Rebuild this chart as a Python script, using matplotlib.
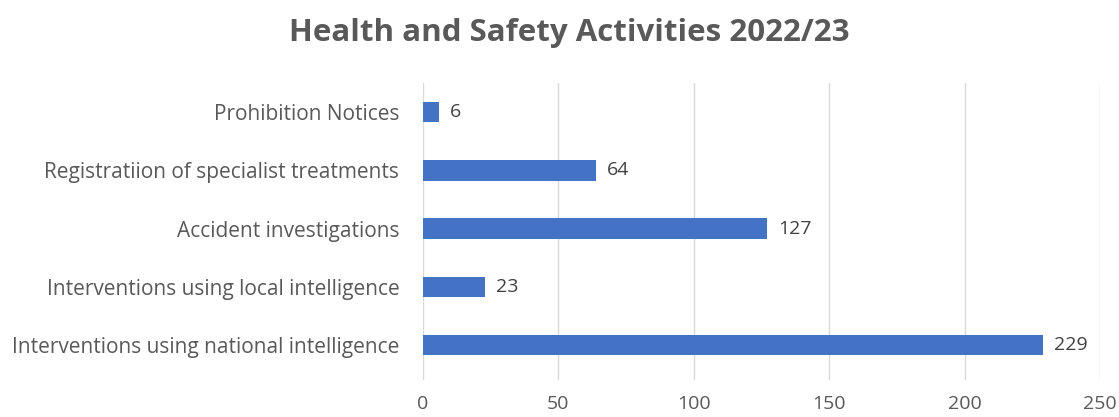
import matplotlib.pyplot as plt
import numpy as np

# Health and safety activity counts, 2022/23 (bottom to top as drawn)
categories = [
    "Interventions using national intelligence",
    "Interventions using local intelligence",
    "Accident investigations",
    "Registratiion of specialist treatments",
    "Prohibition Notices",
]
counts = [229, 23, 127, 64, 6]
xticks = [0, 50, 100, 150, 200, 250]

plt.rcParams['font.family'] = ['Open Sans', 'DejaVu Sans']

fig = plt.figure(figsize=(11.19, 4.17), dpi=100)
ax = fig.add_axes([0.378, 0.0887, 0.605, 0.712])

y = np.arange(len(categories))
bars = ax.barh(y, counts, height=0.35, color='#4472C4', zorder=3)

# value labels just past the end of each bar
for yi, v in zip(y, counts):
    ax.text(v + 4, yi, str(v), va='center', ha='left',
            fontsize=14, color='#404040')

ax.set_yticks(y)
ax.set_yticklabels(categories, fontsize=15, color='#595959')
ax.set_ylim(-0.6, len(categories) - 0.5)

ax.set_xlim(0, 250)
ax.set_xticks(xticks)
ax.set_xticklabels([str(t) for t in xticks], fontsize=14, color='#595959')
ax.xaxis.grid(True, color='#d9d9d9', linewidth=1, zorder=0)

ax.tick_params(axis='both', length=0)
ax.tick_params(axis='x', pad=11)
ax.tick_params(axis='y', pad=17)
for s in ax.spines.values():
    s.set_visible(False)

fig.text(0.509, 0.922, "Health and Safety Activities 2022/23", ha='center',
         va='center', fontsize=22.5, fontweight='bold', color='#595959')

fig.savefig('out.png', dpi=100, facecolor='white')
